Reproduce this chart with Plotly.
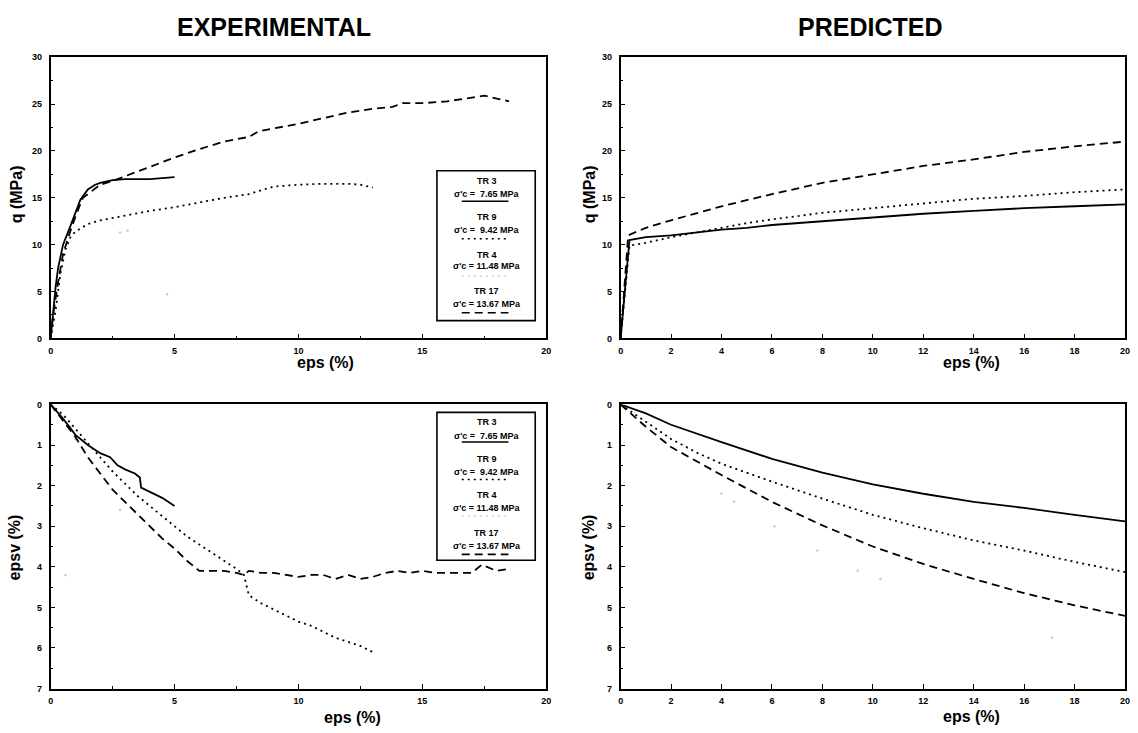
import plotly.graph_objects as go

# ---------------- DATA ----------------
# Experimental q (MPa) vs eps (%)
exp_q_tr3_x = [0, 0.1, 0.2, 0.3, 0.5, 0.8, 1.0, 1.2, 1.5, 1.8, 2.0, 2.5, 3.0, 4.0, 5.0]
exp_q_tr3_y = [0, 3.0, 5.5, 7.5, 10.0, 12.0, 13.5, 14.8, 15.9, 16.4, 16.6, 16.9, 17.0, 17.0, 17.2]
exp_q_tr9_x = [0, 0.2, 0.4, 0.6, 0.8, 1.0, 1.5, 2.0, 3.0, 4.0, 5.0, 6.0, 7.0, 8.0, 8.5, 9.0, 10.0, 11.0, 12.0, 12.5, 13.0]
exp_q_tr9_y = [0, 3.0, 7.0, 9.5, 10.8, 11.4, 12.2, 12.6, 13.1, 13.6, 14.0, 14.5, 15.0, 15.4, 15.8, 16.2, 16.4, 16.5, 16.5, 16.4, 16.1]
exp_q_tr17_x = [0, 0.1, 0.3, 0.5, 0.8, 1.0, 1.3, 2.0, 2.5, 3.0, 4.0, 5.0, 6.0, 7.0, 8.0, 8.4, 9.0, 10.0, 11.0, 12.0, 13.0, 13.8, 14.2, 15.0, 16.0, 17.0, 17.5, 18.0, 18.5]
exp_q_tr17_y = [0, 2.5, 6.0, 9.0, 11.5, 13.0, 15.0, 16.4, 16.8, 17.3, 18.3, 19.3, 20.2, 21.0, 21.5, 22.1, 22.4, 22.9, 23.5, 24.1, 24.5, 24.7, 25.1, 25.1, 25.3, 25.7, 25.9, 25.6, 25.3]
exp_q_tr4_x = [2.8, 3.1, 4.7]
exp_q_tr4_y = [11.3, 11.5, 4.7]

# Experimental epsv (%) vs eps (%)
exp_v_tr3_x = [0, 0.5, 1.0, 1.5, 2.0, 2.4, 2.7, 3.0, 3.4, 3.6, 3.65, 4.0, 4.5, 5.0]
exp_v_tr3_y = [0, 0.35, 0.75, 1.0, 1.2, 1.3, 1.5, 1.6, 1.7, 1.8, 2.05, 2.15, 2.3, 2.5]
exp_v_tr9_x = [0, 0.5, 1.0, 1.5, 2.0, 2.5, 3.0, 3.5, 4.0, 4.5, 5.0, 5.5, 6.0, 6.5, 7.0, 7.5, 7.8, 8.0, 8.5, 9.0, 9.5, 10.0, 10.5, 11.0, 11.5, 12.0, 12.5, 13.0]
exp_v_tr9_y = [0, 0.25, 0.6, 0.95, 1.3, 1.65, 1.95, 2.25, 2.5, 2.75, 3.0, 3.25, 3.45, 3.65, 3.85, 4.05, 4.2, 4.7, 4.9, 5.05, 5.2, 5.35, 5.45, 5.6, 5.75, 5.85, 5.95, 6.1]
exp_v_tr17_x = [0, 0.5, 1.0, 1.5, 2.0, 2.5, 3.0, 3.5, 4.0, 4.5, 5.0, 5.5, 6.0, 6.5, 7.0, 7.5, 7.8, 8.0, 8.5, 9.0, 9.5, 10.0, 10.5, 11.0, 11.5, 12.0, 12.5, 13.0, 13.5, 14.0, 14.5, 15.0, 15.5, 16.0, 17.0, 17.4, 17.8, 18.0, 18.5]
exp_v_tr17_y = [0, 0.4, 0.8, 1.3, 1.7, 2.1, 2.4, 2.7, 3.0, 3.3, 3.55, 3.85, 4.1, 4.1, 4.1, 4.15, 4.2, 4.1, 4.15, 4.15, 4.2, 4.25, 4.2, 4.2, 4.3, 4.2, 4.3, 4.25, 4.15, 4.1, 4.15, 4.1, 4.15, 4.15, 4.15, 3.95, 4.05, 4.1, 4.05]
exp_v_tr4_x = [0.8, 1.0, 2.8, 0.6]
exp_v_tr4_y = [0.55, 0.85, 2.6, 4.2]

# Predicted q (MPa) vs eps (%)
pre_q_tr3_x = [0, 0.35, 1, 2, 4, 5, 6, 8, 10, 12, 14, 16, 18, 20]
pre_q_tr3_y = [0, 10.5, 10.8, 11.0, 11.6, 11.8, 12.1, 12.5, 12.9, 13.3, 13.6, 13.9, 14.1, 14.3]
pre_q_tr9_x = [0, 0.35, 1, 2, 3, 4, 5, 6, 8, 10, 12, 14, 16, 18, 20]
pre_q_tr9_y = [0, 9.9, 10.2, 10.8, 11.3, 11.8, 12.3, 12.7, 13.4, 13.9, 14.4, 14.9, 15.2, 15.6, 15.9]
pre_q_tr17_x = [0, 0.3, 1, 2, 4, 6, 8, 10, 12, 14, 16, 18, 20]
pre_q_tr17_y = [0, 11.0, 11.8, 12.6, 14.1, 15.4, 16.6, 17.5, 18.4, 19.1, 19.9, 20.5, 21.0]

# Predicted epsv (%) vs eps (%)
pre_v_tr3_x = [0, 1, 2, 3, 4, 6, 8, 10, 12, 14, 16, 18, 20]
pre_v_tr3_y = [0, 0.22, 0.5, 0.72, 0.93, 1.34, 1.68, 1.97, 2.2, 2.4, 2.55, 2.72, 2.88]
pre_v_tr9_x = [0, 1, 2, 3, 4, 6, 8, 10, 12, 14, 16, 18, 20]
pre_v_tr9_y = [0, 0.42, 0.85, 1.18, 1.46, 1.9, 2.32, 2.72, 3.05, 3.35, 3.6, 3.88, 4.13]
pre_v_tr17_x = [0, 1, 2, 3, 4, 6, 8, 10, 12, 14, 16, 18, 20]
pre_v_tr17_y = [0, 0.55, 1.05, 1.4, 1.74, 2.4, 2.98, 3.5, 3.93, 4.3, 4.65, 4.95, 5.21]
pre_v_tr4_x = [4.0, 4.5, 6.1, 7.8, 9.4, 10.3, 17.1]
pre_v_tr4_y = [2.2, 2.4, 3.0, 3.6, 4.1, 4.3, 5.75]

legend_names = ["TR 3", "TR 9", "TR 4", "TR 17"]
legend_stress = ["σ'c =  7.65 MPa", "σ'c =  9.42 MPa", "σ'c = 11.48 MPa", "σ'c = 13.67 MPa"]

# ---------------- STYLE ----------------
W, H = 1138, 733
FONT = "Liberation Sans, Arial, sans-serif"
STY = {
    "TR 3": dict(color="black", width=1.8, dash="solid"),
    "TR 9": dict(color="black", width=1.8, dash="2px,4px"),
    "TR 4": dict(color="#d0d0d0", width=1.5, dash="2px,4px"),
    "TR 17": dict(color="black", width=1.8, dash="8px,5px"),
}

def px(x):
    return x / W

def py(y):
    return 1 - y / H

fig = go.Figure()

def add(x, y, name, ax):
    fig.add_trace(go.Scatter(x=x, y=y, mode="lines", line=STY[name], showlegend=False,
                             xaxis="x" + ax, yaxis="y" + ax, hoverinfo="skip"))

def faint(x, y, ax):
    fig.add_trace(go.Scatter(x=x, y=y, mode="markers", showlegend=False,
                             marker=dict(size=2.5, color="#c8c8c8"),
                             xaxis="x" + ax, yaxis="y" + ax, hoverinfo="skip"))

faint(exp_q_tr4_x, exp_q_tr4_y, "")
add(exp_q_tr3_x, exp_q_tr3_y, "TR 3", "")
add(exp_q_tr9_x, exp_q_tr9_y, "TR 9", "")
add(exp_q_tr17_x, exp_q_tr17_y, "TR 17", "")

add(pre_q_tr3_x, pre_q_tr3_y, "TR 3", "2")
add(pre_q_tr9_x, pre_q_tr9_y, "TR 9", "2")
add(pre_q_tr17_x, pre_q_tr17_y, "TR 17", "2")

faint(exp_v_tr4_x, exp_v_tr4_y, "3")
add(exp_v_tr3_x, exp_v_tr3_y, "TR 3", "3")
add(exp_v_tr9_x, exp_v_tr9_y, "TR 9", "3")
add(exp_v_tr17_x, exp_v_tr17_y, "TR 17", "3")

faint(pre_v_tr4_x, pre_v_tr4_y, "4")
add(pre_v_tr3_x, pre_v_tr3_y, "TR 3", "4")
add(pre_v_tr9_x, pre_v_tr9_y, "TR 9", "4")
add(pre_v_tr17_x, pre_v_tr17_y, "TR 17", "4")

XL = [px(48), px(547)]
XR = [px(622), px(1130)]
YT = [py(338), py(53)]
YB = [py(693), py(405)]

tickfont = dict(family=FONT, size=9, color="black", weight="bold")

def xax(domain, anchor, dtick, minor):
    return dict(domain=domain, anchor=anchor, range=[0, 20], dtick=dtick, tick0=0,
                showline=True, mirror=True, linecolor="black", linewidth=1.6,
                ticks="inside", ticklen=5, tickwidth=1.2, tickcolor="black",
                minor=dict(dtick=minor, ticks="inside", ticklen=3, tickcolor="black") if minor else None,
                showgrid=False, zeroline=False, tickfont=tickfont, ticklabelstandoff=3)

def yax(domain, anchor, rng, dtick, minor):
    return dict(domain=domain, anchor=anchor, range=rng, dtick=dtick, tick0=0,
                showline=True, mirror=True, linecolor="black", linewidth=1.6,
                ticks="inside", ticklen=5, tickwidth=1.2, tickcolor="black",
                minor=dict(dtick=minor, ticks="inside", ticklen=3, tickcolor="black"),
                showgrid=False, zeroline=False, tickfont=tickfont, ticklabelstandoff=5)

fig.update_layout(
    width=W, height=H, margin=dict(l=0, r=0, t=0, b=0),
    paper_bgcolor="white", plot_bgcolor="white", showlegend=False,
    xaxis=xax(XL, "y", 5, 2.5),
    yaxis=yax(YT, "x", [0, 30], 5, 2.5),
    xaxis2=xax(XR, "y2", 2, None),
    yaxis2=yax(YT, "x2", [0, 30], 5, 2.5),
    xaxis3=xax(XL, "y3", 5, 2.5),
    yaxis3=yax(YB, "x3", [7, 0], 1, 0.5),
    xaxis4=xax(XR, "y4", 2, None),
    yaxis4=yax(YB, "x4", [7, 0], 1, 0.5),
)

ann = []
def text(x, y, s, size, bold=True, angle=0):
    ann.append(dict(x=px(x), y=py(y), xref="paper", yref="paper", text=s, showarrow=False,
                    xanchor="center", yanchor="middle", textangle=angle,
                    font=dict(family=FONT, size=size, color="black", weight="bold" if bold else "normal")))

text(273, 22, "EXPERIMENTAL", 25)
text(873, 22, "PREDICTED", 25)
text(325, 362, "eps (%)", 16)
text(352, 722, "eps (%)", 16)
text(975, 362, "eps (%)", 16)
text(975, 721, "eps (%)", 16)
text(13, 192, "q (MPa)", 16, angle=-90)
text(591, 192, "q (MPa)", 16, angle=-90)
text(12, 550, "epsv (%)", 16, angle=-90)
text(590, 550, "epsv (%)", 16, angle=-90)

shapes = []
# Legend boxes (experimental panels)
for (top, bottom, rows) in [(168, 320, [(178, 192, 199), (215, 228, 237), (253, 265, 275), (290, 303, 312)]),
                            (413, 563, [(423, 437, 443), (460, 473, 481), (497, 510, 518), (535, 548, 557)])]:
    shapes.append(dict(type="rect", xref="paper", yref="paper", x0=px(437), x1=px(536),
                       y0=py(bottom), y1=py(top), line=dict(color="black", width=1.6),
                       fillcolor="white", layer="above"))
    for i, (ty, sy, ly) in enumerate(rows):
        name = legend_names[i]
        text(487, ty, name, 9)
        text(487, sy, legend_stress[i], 9)
        st = dict(STY[name])
        st["width"] = 1.6
        shapes.append(dict(type="line", xref="paper", yref="paper", x0=px(462), x1=px(509),
                           y0=py(ly), y1=py(ly), line=st, layer="above"))

fig.update_layout(annotations=ann, shapes=shapes)
fig.write_html("out.html")
